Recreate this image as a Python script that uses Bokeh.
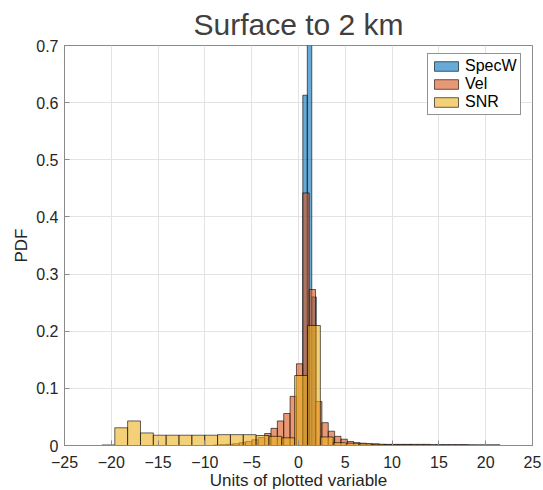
from bokeh.plotting import figure
from bokeh.models import Range1d, ColumnDataSource, Legend, LegendItem, FixedTicker, Title
from bokeh.embed import file_html
from bokeh.resources import INLINE

# ---- data ----
specw_start = 0.46
specw_width = 0.48
specw_pdf = [0.613, 1.20, 0.26]

vel_start = -9.06
vel_width = 0.68
vel_pdf = [0.001, 0.0015, 0.002, 0.003, 0.005, 0.007, 0.010, 0.014, 0.021, 0.030,
           0.043, 0.056, 0.086, 0.143, 0.442, 0.273, 0.077, 0.040, 0.025, 0.016,
           0.011, 0.007, 0.005, 0.004, 0.003, 0.003, 0.002, 0.002, 0.002, 0.002,
           0.002, 0.002, 0.002, 0.002, 0.0015, 0.0015, 0.0015, 0.0015, 0.0015,
           0.0015, 0.001, 0.001, 0.001, 0.001, 0.001]

snr_start = -21.0
snr_width = 1.3727
snr_pdf = [0.001, 0.031, 0.043, 0.022, 0.018, 0.018, 0.018, 0.018, 0.018, 0.019,
           0.019, 0.019, 0.0175, 0.016, 0.0135, 0.1225, 0.21, 0.015, 0.005, 0.004,
           0.003, 0.002, 0.0015, 0.0015, 0.001, 0.001, 0.001, 0.001, 0.001, 0.0008, 0.0008]

series_names = ["SpecW", "Vel", "SNR"]
series_colors = ["#0072BD", "#D95319", "#EDB120"]

x_ticks = [-25, -20, -15, -10, -5, 0, 5, 10, 15, 20, 25]
y_ticks = [0, 0.1, 0.2, 0.3, 0.4, 0.5, 0.6, 0.7]

FONT = "Liberation Sans"
TXT = "#262626"
AX = "#8a8a8a"

p = figure(frame_width=468, frame_height=400, output_backend="svg", toolbar_location=None,
           x_range=Range1d(-25, 25), y_range=Range1d(0, 0.7),
           min_border_left=64, min_border_right=11, min_border_top=45, min_border_bottom=45)

p.title = Title(text="Surface to 2 km", align="center", text_font=FONT,
                text_font_size="30px", text_font_style="normal", text_color="#404040",
                offset=0, standoff=9)
p.outline_line_color = AX
p.outline_line_width = 1

def bins(start, width, vals):
    n = len(vals)
    left = [start + width * i for i in range(n)]
    right = [start + width * (i + 1) for i in range(n)]
    return ColumnDataSource(dict(left=left, right=right, top=vals, bottom=[0] * n))

renderers = []
for (start, width, vals), col in zip([(specw_start, specw_width, specw_pdf),
                                      (vel_start, vel_width, vel_pdf),
                                      (snr_start, snr_width, snr_pdf)], series_colors):
    r = p.quad(left="left", right="right", top="top", bottom="bottom", source=bins(start, width, vals),
               fill_color=col, fill_alpha=0.6, line_color="black", line_alpha=0.6, line_width=1)
    renderers.append(r)

for ax in (p.xaxis[0], p.yaxis[0]):
    ax.axis_line_color = AX
    ax.major_tick_line_color = AX
    ax.major_tick_in = 5
    ax.major_tick_out = 0
    ax.minor_tick_line_color = None
    ax.major_label_text_font = FONT
    ax.major_label_text_font_size = "16px"
    ax.major_label_text_color = TXT
    ax.axis_label_text_font = FONT
    ax.axis_label_text_font_size = "17px"
    ax.axis_label_text_font_style = "normal"
    ax.axis_label_text_color = TXT

p.xaxis[0].ticker = FixedTicker(ticks=x_ticks)
p.yaxis[0].ticker = FixedTicker(ticks=y_ticks)
p.xaxis[0].axis_label = "Units of plotted variable"
p.yaxis[0].axis_label = "PDF"
p.xaxis[0].major_label_standoff = 10
p.yaxis[0].major_label_standoff = 6
p.xaxis[0].axis_label_standoff = 0
p.yaxis[0].axis_label_standoff = 2

p.xgrid.ticker = FixedTicker(ticks=x_ticks)
p.ygrid.ticker = FixedTicker(ticks=y_ticks)
p.xgrid.grid_line_color = "#e3e3e3"
p.ygrid.grid_line_color = "#e3e3e3"

legend = Legend(items=[LegendItem(label=n, renderers=[r]) for n, r in zip(series_names, renderers)],
                location=(363, 330), label_text_font=FONT, label_text_font_size="16px",
                label_text_color="#000000", glyph_width=30, glyph_height=12, label_height=12,
                spacing=0, padding=3, label_standoff=4, border_line_color="#262626",
                border_line_width=1, background_fill_alpha=1, margin=0)
p.add_layout(legend, "center")

open("out.html", "w").write(file_html(p, INLINE))
